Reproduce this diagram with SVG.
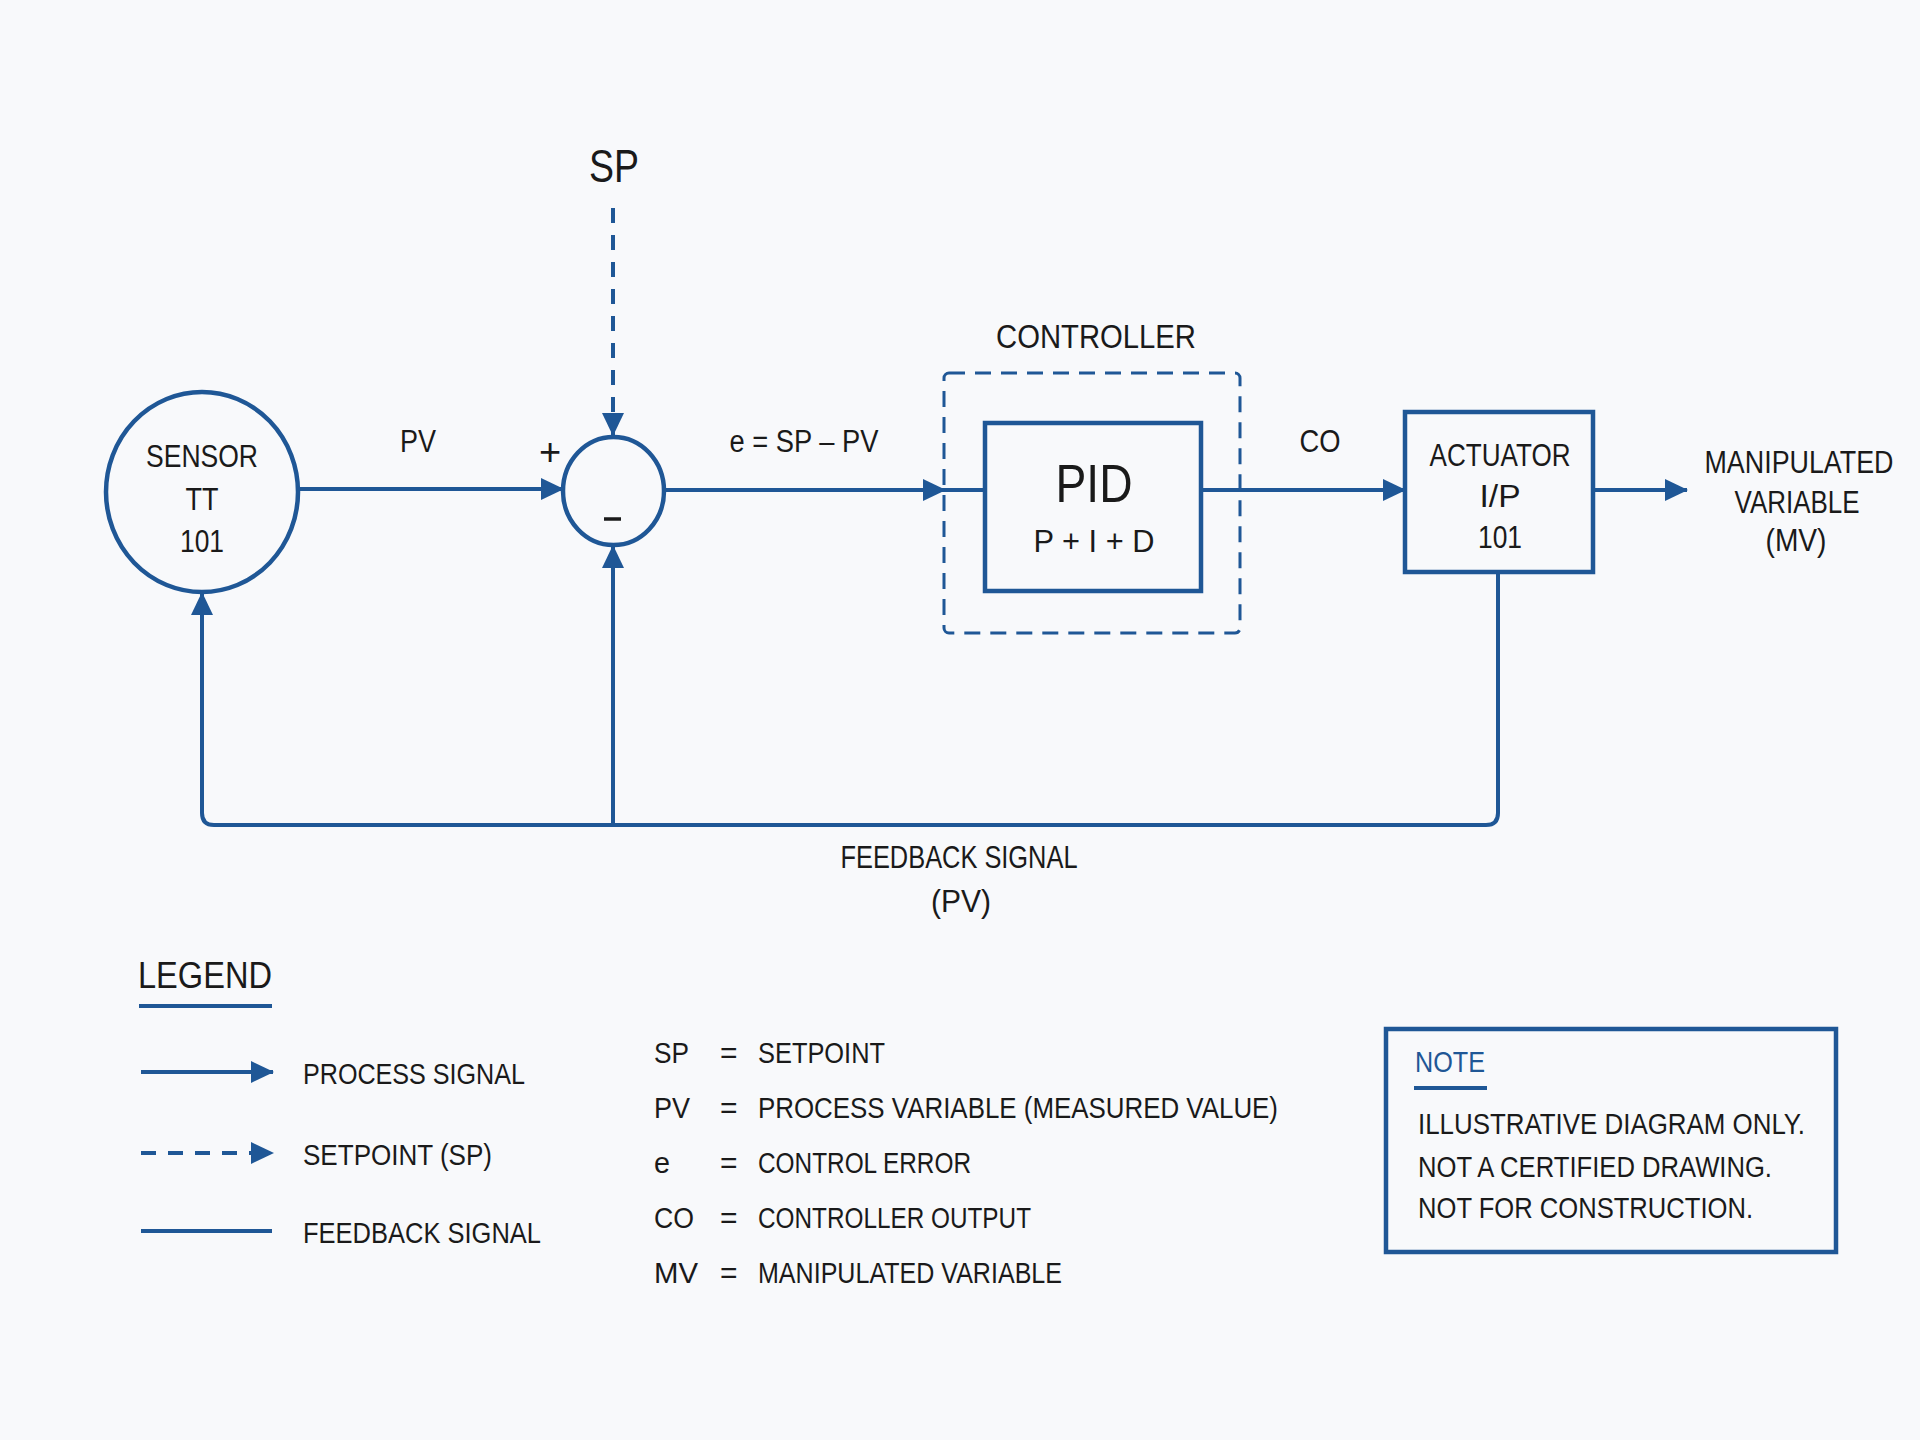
<svg xmlns="http://www.w3.org/2000/svg" width="1920" height="1440" viewBox="0 0 1920 1440">
<defs>
<style>
.t{font-family:"Liberation Sans",Arial,sans-serif;fill:#1a1a1a;}
.m{font-size:31px;text-anchor:middle;}
.l{font-size:30px;}
.ln{fill:none;stroke:#1F5796;stroke-width:4;}
.dash{stroke-dasharray:15 12;}
.box{fill:none;stroke:#1F5796;stroke-width:4.5;}
</style>
<marker id="arr" markerUnits="userSpaceOnUse" markerWidth="24" markerHeight="24" viewBox="0 0 24 24" refX="22" refY="12" orient="auto">
<path d="M0,1 L23,12 L0,23 Z" fill="#1F5796"/>
</marker>
</defs>
<rect width="1920" height="1440" fill="#F8F9FB"/>

<g id="connectors">
<path class="ln dash" d="M613,208 V435" marker-end="url(#arr)"/>
<path class="ln" d="M298,489 H563" marker-end="url(#arr)"/>
<path class="ln" d="M664,490 H945" marker-end="url(#arr)"/>
<path class="ln" d="M945,490 H985"/>
<path class="ln" d="M1201,490 H1405" marker-end="url(#arr)"/>
<path class="ln" d="M1593,490 H1687" marker-end="url(#arr)"/>
<path class="ln" d="M1498,572 V813 Q1498,825 1486,825 H214 Q202,825 202,813 V593" marker-end="url(#arr)"/>
<path class="ln" d="M613,825 V546" marker-end="url(#arr)"/>
</g>

<g id="sp-label">
<text class="t" x="614" y="182" font-size="46" text-anchor="middle" textLength="50" lengthAdjust="spacingAndGlyphs">SP</text>
</g>

<g id="sensor">
<ellipse cx="202" cy="492" rx="96" ry="100" class="box"/>
<text class="t m" x="202" y="467" textLength="112" lengthAdjust="spacingAndGlyphs">SENSOR</text>
<text class="t m" x="202" y="510" textLength="33" lengthAdjust="spacingAndGlyphs">TT</text>
<text class="t m" x="202" y="552" textLength="44" lengthAdjust="spacingAndGlyphs">101</text>
</g>

<g id="summing-junction">
<ellipse cx="613.5" cy="491" rx="50.5" ry="54" class="box"/>
<text class="t" x="550" y="465" font-size="38" text-anchor="middle">+</text>
<path d="M604,519 H621" stroke="#1a1a1a" stroke-width="3.5"/>
</g>

<g id="labels">
<text class="t m" x="418" y="452" textLength="36" lengthAdjust="spacingAndGlyphs">PV</text>
<text class="t m" x="804" y="452" textLength="149" lengthAdjust="spacingAndGlyphs">e = SP – PV</text>
<text class="t m" x="1320" y="452" textLength="41" lengthAdjust="spacingAndGlyphs">CO</text>
<text class="t m" x="959" y="868" textLength="237" lengthAdjust="spacingAndGlyphs">FEEDBACK SIGNAL</text>
<text class="t m" x="961" y="912" textLength="60" lengthAdjust="spacingAndGlyphs">(PV)</text>
</g>

<g id="controller">
<rect x="944" y="373" width="296" height="260" rx="5" fill="none" stroke="#1F5796" stroke-width="3" stroke-dasharray="16 10"/>
<text class="t" x="1096" y="348" font-size="33" text-anchor="middle" textLength="200" lengthAdjust="spacingAndGlyphs">CONTROLLER</text>
</g>

<g id="pid">
<rect x="985" y="423" width="216" height="168" class="box"/>
<text class="t" x="1094" y="502" font-size="54" text-anchor="middle" textLength="77" lengthAdjust="spacingAndGlyphs">PID</text>
<text class="t m" x="1094" y="552" textLength="121" lengthAdjust="spacingAndGlyphs">P + I + D</text>
</g>

<g id="actuator">
<rect x="1405" y="412" width="188" height="160" class="box"/>
<text class="t m" x="1500" y="466" textLength="141" lengthAdjust="spacingAndGlyphs">ACTUATOR</text>
<text class="t m" x="1500" y="507" textLength="41" lengthAdjust="spacingAndGlyphs">I/P</text>
<text class="t m" x="1500" y="548" textLength="44" lengthAdjust="spacingAndGlyphs">101</text>
</g>

<g id="mv-label">
<text class="t m" x="1799" y="473" textLength="189" lengthAdjust="spacingAndGlyphs">MANIPULATED</text>
<text class="t m" x="1797" y="513" textLength="125" lengthAdjust="spacingAndGlyphs">VARIABLE</text>
<text class="t m" x="1796" y="551" textLength="61" lengthAdjust="spacingAndGlyphs">(MV)</text>
</g>

<g id="legend">
<text class="t" x="138" y="988" font-size="36" textLength="134" lengthAdjust="spacingAndGlyphs">LEGEND</text>
<path d="M139,1006 H272" stroke="#1F5796" stroke-width="4"/>
<path class="ln" d="M141,1072 H273" marker-end="url(#arr)"/>
<text class="t l" x="303" y="1084" textLength="222" lengthAdjust="spacingAndGlyphs">PROCESS SIGNAL</text>
<path class="ln dash" d="M141,1153 H273" marker-end="url(#arr)"/>
<text class="t l" x="303" y="1165" textLength="189" lengthAdjust="spacingAndGlyphs">SETPOINT (SP)</text>
<path class="ln" d="M141,1231 H272"/>
<text class="t l" x="303" y="1243" textLength="238" lengthAdjust="spacingAndGlyphs">FEEDBACK SIGNAL</text>
</g>

<g id="abbreviations">
<text class="t l" x="654" y="1063" textLength="35" lengthAdjust="spacingAndGlyphs">SP</text>
<text class="t l" x="720" y="1063">=</text>
<text class="t l" x="758" y="1063" textLength="127" lengthAdjust="spacingAndGlyphs">SETPOINT</text>
<text class="t l" x="654" y="1118" textLength="36" lengthAdjust="spacingAndGlyphs">PV</text>
<text class="t l" x="720" y="1118">=</text>
<text class="t l" x="758" y="1118" textLength="520" lengthAdjust="spacingAndGlyphs">PROCESS VARIABLE (MEASURED VALUE)</text>
<text class="t l" x="654" y="1173" textLength="16" lengthAdjust="spacingAndGlyphs">e</text>
<text class="t l" x="720" y="1173">=</text>
<text class="t l" x="758" y="1173" textLength="213" lengthAdjust="spacingAndGlyphs">CONTROL ERROR</text>
<text class="t l" x="654" y="1228" textLength="40" lengthAdjust="spacingAndGlyphs">CO</text>
<text class="t l" x="720" y="1228">=</text>
<text class="t l" x="758" y="1228" textLength="273" lengthAdjust="spacingAndGlyphs">CONTROLLER OUTPUT</text>
<text class="t l" x="654" y="1283" textLength="44" lengthAdjust="spacingAndGlyphs">MV</text>
<text class="t l" x="720" y="1283">=</text>
<text class="t l" x="758" y="1283" textLength="304" lengthAdjust="spacingAndGlyphs">MANIPULATED VARIABLE</text>
</g>

<g id="note">
<rect x="1386" y="1029" width="450" height="223" class="box"/>
<text class="t l" x="1415" y="1072" style="fill:#1F5796" textLength="70" lengthAdjust="spacingAndGlyphs">NOTE</text>
<path d="M1414,1088 H1487" stroke="#1F5796" stroke-width="4"/>
<text class="t l" x="1418" y="1134" textLength="387" lengthAdjust="spacingAndGlyphs">ILLUSTRATIVE DIAGRAM ONLY.</text>
<text class="t l" x="1418" y="1177" textLength="354" lengthAdjust="spacingAndGlyphs">NOT A CERTIFIED DRAWING.</text>
<text class="t l" x="1418" y="1218" textLength="335" lengthAdjust="spacingAndGlyphs">NOT FOR CONSTRUCTION.</text>
</g>
</svg>
